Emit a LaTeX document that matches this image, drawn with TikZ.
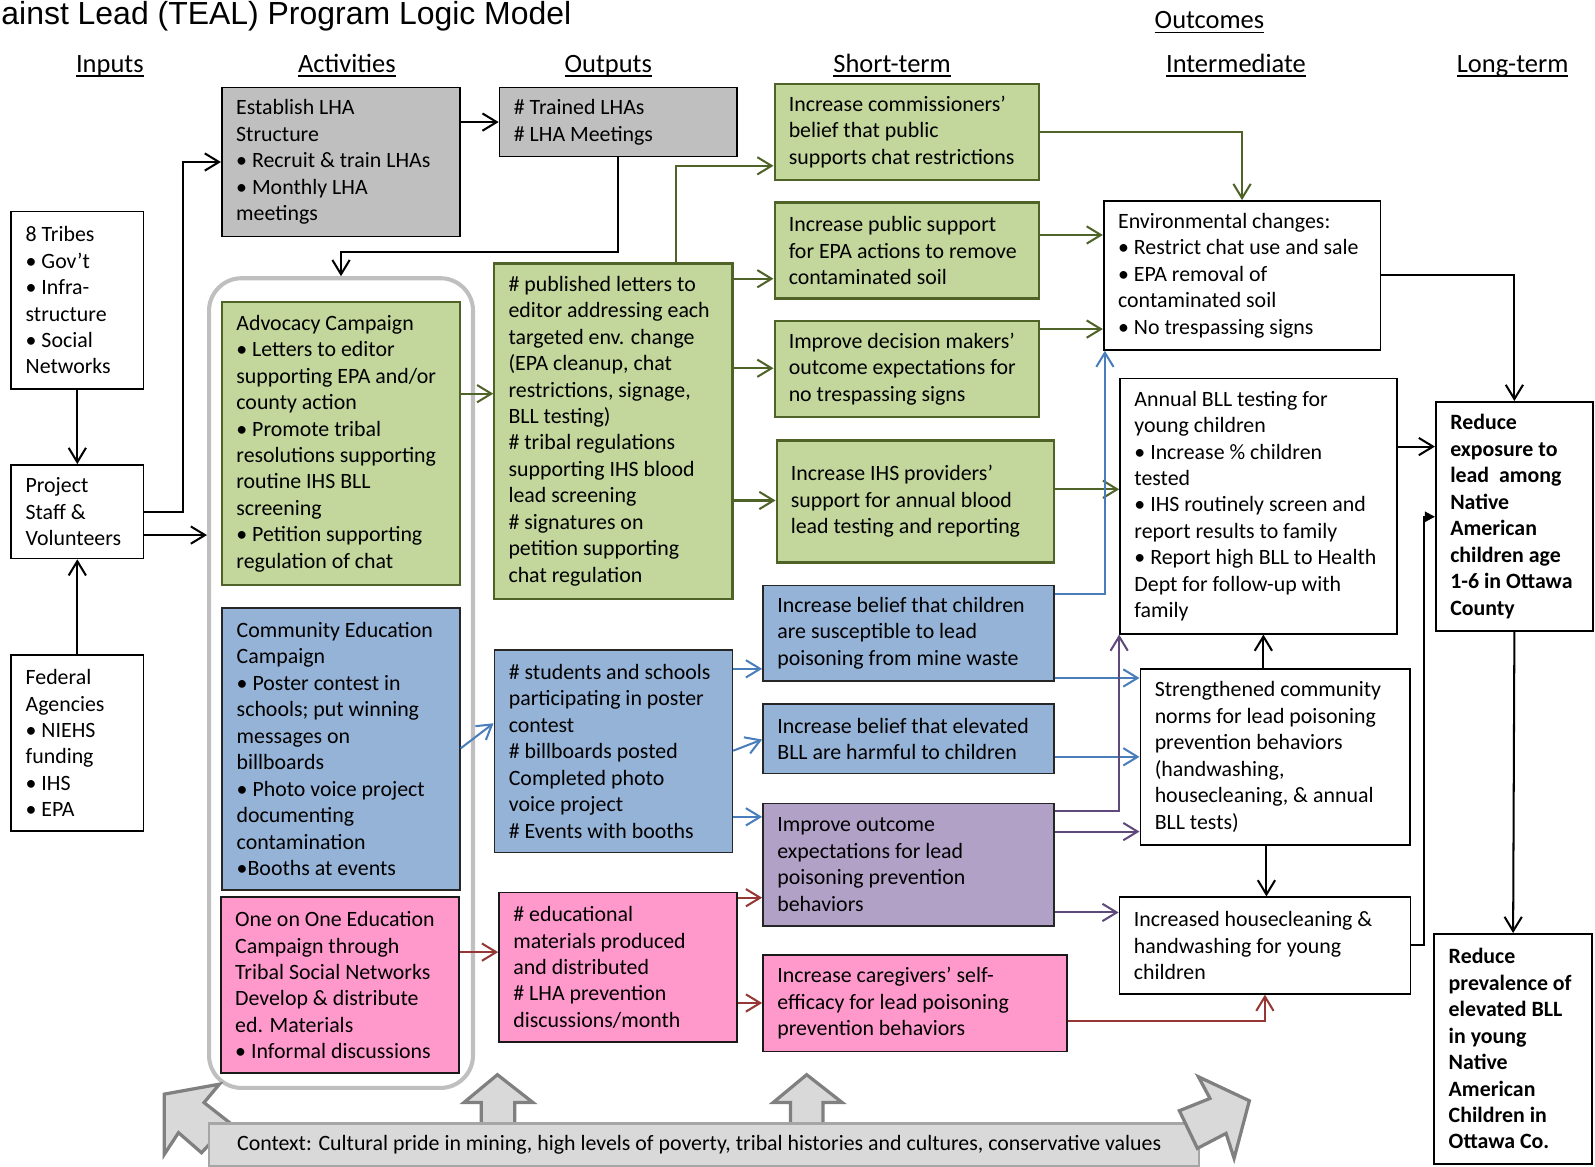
\documentclass[tikz,border=0pt]{standalone}
\usepackage{fontspec}
\setmainfont{Carlito}
\newfontfamily\titlefont{Liberation Sans}
\usetikzlibrary{arrows.meta}
\definecolor{gfill}{HTML}{C3D69B}
\definecolor{gline}{HTML}{4F6228}
\definecolor{bfill}{HTML}{95B3D7}
\definecolor{bline}{HTML}{4A7EBB}
\definecolor{pfill}{HTML}{FF99CC}
\definecolor{rline}{HTML}{953735}
\definecolor{ufill}{HTML}{B2A1C7}
\definecolor{uline}{HTML}{5F497A}
\definecolor{grayfill}{HTML}{BFBFBF}
\definecolor{ctxfill}{HTML}{D9D9D9}
\definecolor{ctxline}{HTML}{A6A6A6}
\definecolor{barrline}{HTML}{808080}
\newcommand{\hul}[1]{\setbox0\hbox{#1}\rlap{\rule[-2.2pt]{\wd0}{0.7pt}}\box0}
\newcommand{\mybx}[8][txt]{%
  \pgfmathsetmacro{\bxw}{(#6-#4)*0.5}%
  \pgfmathsetmacro{\bxh}{(#7-#5)*0.5}%
  \node[#3, minimum width=\bxw pt, minimum height=\bxh pt, inner sep=0pt] (#2) at ({(#4+#6)/2},{(#5+#7)/2}) {};%
  \node[#1] (#2t) at ([xshift=7.3pt]#2.west) {#8};}
\begin{document}
\begin{tikzpicture}[x=0.5pt,y=-0.5pt,
  wbox/.style={draw=black, line width=0.8pt, fill=white},
  gbox/.style={draw=gline, line width=1.1pt, fill=gfill},
  bbox/.style={draw=black!85, line width=0.8pt, fill=bfill},
  pbox/.style={draw=black!90, line width=0.8pt, fill=pfill},
  ubox/.style={draw=black!85, line width=0.8pt, fill=ufill},
  graybox/.style={draw=black, line width=0.8pt, fill=grayfill},
  txt/.style={inner sep=0pt, align=left, anchor=west, font=\fontsize{10.75}{13}\selectfont},
  btxt/.style={inner sep=0pt, align=left, anchor=west, font=\fontsize{10.75}{13}\selectfont\bfseries},
  hdr/.style={inner sep=0pt, anchor=base, font=\fontsize{13}{15}\selectfont},
  conn/.style={line width=1pt, -{Straight Barb[length=7pt,width=8.5pt]}},
  blk/.style={conn, draw=black},
  grn/.style={conn, draw=gline},
  blu/.style={conn, draw=bline},
  pur/.style={conn, draw=uline},
  redc/.style={conn, draw=rline},
  tri/.style={line width=1pt, draw=black, -{Triangle[length=5pt,width=5pt]}},
  barrow/.style={fill=ctxfill, draw=barrline, line width=1.6pt, line join=miter}
]
\useasboundingbox (0,0) rectangle (1568,1147);
\clip (0,0) rectangle (1568,1147);

% title and headers
\node[anchor=base west, inner sep=0pt, font=\fontsize{15.7}{18}\selectfont\titlefont] (title) at (1,24) {ainst Lead (TEAL) Program Logic Model};
\node[hdr] (hOut) at (1189,28) {\hul{Outcomes}};
\node[hdr] (hIn) at (108,71) {\hul{Inputs}};
\node[hdr] (hAct) at (341,71) {\hul{Activities}};
\node[hdr] (hOutp) at (598,71) {\hul{Outputs}};
\node[hdr] (hShort) at (877,71) {\hul{Short-term}};
\node[hdr] (hInt) at (1215,71) {\hul{Intermediate}};
\node[hdr] (hLong) at (1487,71) {\hul{Long-term}};

% activities container
\node[draw=grayfill, line width=2pt, rounded corners=16pt, minimum width=129.75pt, minimum height=398pt, inner sep=0pt] (cont) at (335.25,671.5) {};

% inputs
\mybx{tribes}{wbox}{11}{208}{141}{382.5}{8 Tribes\\• Gov’t\\• Infra-\\structure\\• Social\\Networks}
\mybx{proj}{wbox}{11}{457}{141}{549}{Project\\Staff \&\\Volunteers}
\mybx{fed}{wbox}{11}{644}{141}{817}{Federal\\Agencies\\• NIEHS\\funding\\• IHS\\• EPA}

% activities
\mybx{lha}{graybox}{218}{86}{452.5}{232.5}{Establish LHA\\Structure\\• Recruit \& train LHAs\\• Monthly LHA\\meetings}
\mybx{adv}{gbox}{218.5}{297}{452}{575}{Advocacy Campaign\\• Letters to editor\\supporting EPA and/or\\county action\\• Promote tribal\\resolutions supporting\\routine IHS BLL\\screening\\• Petition supporting\\regulation of chat}
\mybx{comm}{bbox}{218.5}{597.5}{452}{875}{Community Education\\Campaign\\• Poster contest in\\schools; put winning\\messages on\\billboards\\• Photo voice project\\documenting\\contamination\\•Booths at events}
\mybx{one}{pbox}{217}{882}{451.5}{1055}{One on One Education\\Campaign through\\Tribal Social Networks\\Develop \& distribute\\ed. Materials\\• Informal discussions}

% outputs
\mybx{trained}{graybox}{491}{86}{724.5}{154}{\# Trained LHAs\\\# LHA Meetings}
\mybx{gout}{gbox}{486}{259}{720}{588.5}{\# published letters to\\editor addressing each\\targeted env. change\\(EPA cleanup, chat\\restrictions, signage,\\BLL testing)\\\# tribal regulations\\supporting IHS blood\\lead screening\\\# signatures on\\petition supporting\\chat regulation}
\mybx{bout}{bbox}{486}{639}{720}{838}{\# students and schools\\participating in poster\\contest\\\# billboards posted\\Completed photo\\voice project\\\# Events with booths}
\mybx{pout}{pbox}{490.5}{877.5}{724.5}{1024.5}{\# educational\\materials produced\\and distributed\\\# LHA prevention\\discussions/month}

% short-term
\mybx{commi}{gbox}{761.5}{82.5}{1021.5}{177}{Increase commissioners’\\belief that public\\supports chat restrictions}
\mybx{pub}{gbox}{761.5}{199}{1021.5}{293.5}{Increase public support\\for EPA actions to remove\\contaminated soil}
\mybx{dec}{gbox}{761.5}{315.5}{1021.5}{410}{Improve decision makers’\\outcome expectations for\\no trespassing signs}
\mybx{ihs}{gbox}{763.5}{433}{1036}{553}{Increase IHS providers’\\support for annual blood\\lead testing and reporting}
\mybx{bel}{bbox}{750}{575.5}{1036}{669.5}{Increase belief that children\\are susceptible to lead\\poisoning from mine waste}
\mybx{elev}{bbox}{750}{692}{1036}{760.5}{Increase belief that elevated\\BLL are harmful to children}
\mybx{purp}{ubox}{750}{790}{1036}{910}{Improve outcome\\expectations for lead\\poisoning prevention\\behaviors}
\mybx{care}{pbox}{750}{939}{1049}{1033.5}{Increase caregivers’ self-\\efficacy for lead poisoning\\prevention behaviors}

% intermediate
\mybx{env}{wbox}{1085}{197.5}{1357}{344}{Environmental changes:\\• Restrict chat use and sale\\• EPA removal of\\contaminated soil\\• No trespassing signs}
\mybx{annual}{wbox}{1101}{372}{1373.5}{623}{Annual BLL testing for\\young children\\• Increase \% children\\tested\\• IHS routinely screen and\\report results to family\\• Report high BLL to Health\\Dept for follow-up with\\family}
\mybx{str}{wbox}{1121}{657.5}{1386}{830.5}{Strengthened community\\norms for lead poisoning\\prevention behaviors\\(handwashing,\\housecleaning, \& annual\\BLL tests)}
\mybx{house}{wbox}{1100.5}{882}{1386.5}{977}{Increased housecleaning \&\\handwashing for young\\children}

% long-term
\mybx[btxt]{rexp}{wbox}{1411.5}{395}{1566}{620.5}{Reduce\\exposure to\\lead\ \ among\\Native\\American\\children age\\1-6 in Ottawa\\County}
\mybx[btxt]{rprev}{wbox}{1410}{918}{1565}{1144}{Reduce\\prevalence of\\elevated BLL\\in young\\Native\\American\\Children in\\Ottawa Co.}

% block arrows behind context box
\draw[barrow] (161.5,1075.6) -- (215.7,1065.8) -- (200.6,1083.9) -- (225.7,1103.6) -- (198.1,1133.2) -- (175.5,1113.5) -- (161.5,1134.8) -- cycle;
\draw[barrow] (489,1056.5) -- (524,1083.9) -- (506,1083.9) -- (506,1106) -- (473,1106) -- (473,1083.9) -- (456,1083.9) -- cycle;
\draw[barrow] (793,1056.5) -- (828,1083.9) -- (809,1083.9) -- (809,1106) -- (777,1106) -- (777,1083.9) -- (760,1083.9) -- cycle;

% context box
\node[draw=ctxline, fill=ctxfill, line width=1.2pt, minimum width=486.5pt, minimum height=20.75pt, inner sep=0pt] (ctx) at (692,1125.25) {};
\node[txt] (ctxt) at ([xshift=14.2pt]ctx.west) {Context: Cultural pride in mining, high levels of poverty, tribal histories and cultures, conservative values};

\draw[barrow] (1228.2,1082.1) -- (1213.2,1138.7) -- (1205.3,1114.2) -- (1177.1,1128.9) -- (1159.4,1091.9) -- (1189.5,1079.8) -- (1178.1,1058.5) -- cycle;

% black connectors
\draw[blk] (tribes.south) -- (proj.north);
\draw[blk] (fed.north) -- (proj.south);
\draw[blk] (proj.east|-0,503) -- (180,503) |- (lha.west);
\draw[blk] (proj.east|-0,526) -- (cont.west|-0,526);
\draw[blk] (lha.east|-0,120) -- (trained.west|-0,120);
\draw[blk] (trained.south) -- (trained.south|-0,248) -| (cont.north);
\draw[blk] (env.east) -| (rexp.north);
\draw[blk] (annual.east|-0,439) -- (rexp.west|-0,439);
\draw[blk] (str.north-|1242,0) -- (annual.south-|1242,0);
\draw[blk] (str.south-|1245,0) -- (house.north-|1245,0);
\draw[tri] (house.east|-0,929) -- (1400,929) |- (rexp.west|-0,508);
\draw[blk] (rexp.south) -- (rprev.north);

% green connectors
\draw[grn] (adv.east|-0,387) -- (gout.west|-0,387);
\draw[grn] (gout.north-|665,0) |- (commi.west|-0,163);
\draw[grn] (gout.east|-0,274) -- (pub.west|-0,274);
\draw[grn] (gout.east|-0,362) -- (dec.west|-0,362);
\draw[grn] (gout.east|-0,492) -- (ihs.west|-0,492);
\draw[grn] (commi.east) -| (env.north);
\draw[grn] (pub.east|-0,231) -- (env.west|-0,231);
\draw[grn] (dec.east|-0,323.5) -- (env.west|-0,323.5);
\draw[grn] (ihs.east|-0,481) -- (annual.west|-0,481);

% blue connectors
\draw[blu] (comm.east|-0,735.7) -- (bout.west|-0,711);
\draw[blu] (bout.east|-0,657.5) -- (bel.west|-0,657.5);
\draw[blu] (bout.east|-0,738) -- (elev.west|-0,727);
\draw[blu] (bout.east|-0,803) -- (purp.west|-0,803);
\draw[blu] (bel.east|-0,584) -| ([xshift=1pt]env.south west);
\draw[blu] (bel.east|-0,666.5) -- (str.west|-0,666.5);
\draw[blu] (elev.east|-0,744) -- (str.west|-0,744);

% purple connectors
\draw[pur] (purp.east|-0,797) -| (annual.south west);
\draw[pur] (purp.east|-0,817.5) -- (str.west|-0,817.5);
\draw[pur] (purp.east|-0,897) -- (house.west|-0,897);

% red connectors
\draw[redc] (one.east|-0,936) -- (pout.west|-0,936);
\draw[redc] (pout.east|-0,882.5) -- (purp.west|-0,882.5);
\draw[redc] (pout.east|-0,986) -- (care.west|-0,986);
\draw[redc] (care.east|-0,1004) -| (house.south);
\end{tikzpicture}
\end{document}
